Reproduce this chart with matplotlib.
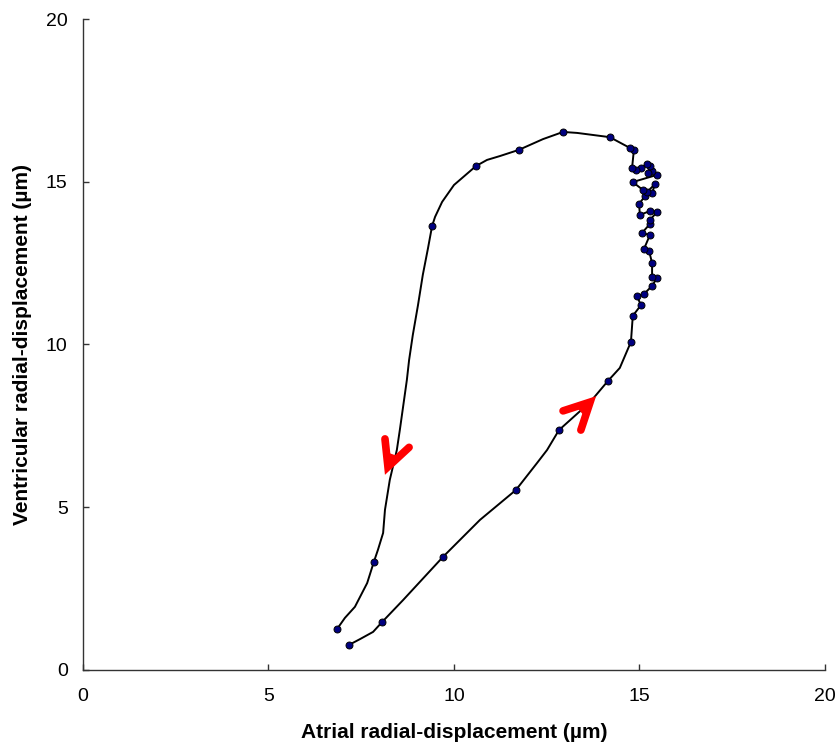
import numpy as np
import matplotlib
matplotlib.use("Agg")
import matplotlib.pyplot as plt

plt.rcParams['font.family'] = ['Liberation Sans', 'DejaVu Sans']

# loop trace (um), in drawing order; marked = sampled point with a dot
atrial = [7.17, 7.47, 7.82, 8.06, 8.63, 9.70, 10.70, 11.67, 12.24, 12.51,
          12.83, 13.67, 14.15, 14.47, 14.77, 14.82, 15.04, 14.93, 15.12, 15.34,
          15.47, 15.34, 15.34, 15.26, 15.12, 15.28, 15.07, 15.28, 15.28, 15.47,
          15.28, 15.01, 14.99, 15.15, 15.34, 15.42, 15.20, 15.09, 14.82, 15.47,
          15.34, 15.23, 15.28, 15.20, 15.04, 14.91, 14.80, 14.85, 14.74, 14.20,
          13.32, 12.94, 12.40, 11.75, 11.24, 10.89, 10.59, 10.00, 9.68, 9.49,
          9.41, 9.30, 9.16, 9.03, 8.89, 8.79, 8.73, 8.54, 8.46, 8.27,
          8.14, 8.09, 7.95, 7.84, 7.66, 7.33, 7.06, 6.85]
ventricular = [0.77, 0.95, 1.17, 1.47, 2.15, 3.47, 4.61, 5.53, 6.36, 6.76,
               7.37, 8.23, 8.88, 9.28, 10.08, 10.88, 11.21, 11.49, 11.55, 11.80,
               12.04, 12.07, 12.50, 12.87, 12.93, 13.36, 13.43, 13.70, 13.82, 14.07,
               14.10, 13.98, 14.32, 14.56, 14.65, 14.93, 14.68, 14.75, 14.99, 15.21,
               15.33, 15.27, 15.48, 15.55, 15.42, 15.36, 15.42, 15.98, 16.04, 16.37,
               16.50, 16.53, 16.31, 15.98, 15.79, 15.67, 15.48, 14.90, 14.38, 13.92,
               13.64, 12.96, 12.14, 11.21, 10.29, 9.52, 8.91, 7.37, 6.76, 5.84,
               4.92, 4.21, 3.69, 3.32, 2.67, 1.94, 1.60, 1.26]
marked = [1, 0, 0, 1, 0, 1, 0, 1, 0, 0,
          1, 0, 1, 0, 1, 1, 1, 1, 1, 1,
          1, 1, 1, 1, 1, 1, 1, 1, 1, 1,
          1, 1, 1, 1, 1, 1, 1, 1, 1, 1,
          1, 1, 1, 1, 1, 1, 1, 1, 1, 1,
          0, 1, 0, 1, 0, 0, 1, 0, 0, 0,
          1, 0, 0, 0, 0, 0, 0, 0, 0, 0,
          0, 0, 0, 1, 0, 0, 0, 1]

# direction arrows (chevrons): arm, tip, arm
arrow_down_x = [8.14, 8.22, 8.79]
arrow_down_y = [7.10, 6.24, 6.84]
arrow_up_x = [12.94, 13.67, 13.42]
arrow_up_y = [7.96, 8.23, 7.37]

fig = plt.figure(figsize=(8.4, 7.51), dpi=100)
ax = fig.add_axes([0.0988, 0.1079, 0.8833, 0.8668])

mk = [i for i, m in enumerate(marked) if m]
ax.plot(atrial, ventricular, color='black', lw=1.4, zorder=2)
ax.plot(np.array(atrial)[mk], np.array(ventricular)[mk], ls='none', marker='o',
        ms=5, mfc='#000080', mec='black', mew=0.7, zorder=3)

for ax_x, ax_y in [(arrow_down_x, arrow_down_y), (arrow_up_x, arrow_up_y)]:
    # filled wedge near the tip only, arms drawn as thick strokes
    tx, ty = ax_x[1], ax_y[1]
    wx = [tx + 0.5 * (ax_x[0] - tx), tx, tx + 0.5 * (ax_x[2] - tx)]
    wy = [ty + 0.5 * (ax_y[0] - ty), ty, ty + 0.5 * (ax_y[2] - ty)]
    ax.fill(wx, wy, color='#ff0000', zorder=4)
    ax.plot(ax_x, ax_y, color='#ff0000', lw=5.5, solid_capstyle='round',
            solid_joinstyle='miter', zorder=4)

ax.set_xlim(0, 20)
ax.set_ylim(0, 20)
ax.set_xticks([0, 5, 10, 15, 20])
ax.set_yticks([0, 5, 10, 15, 20])
for s in ['top', 'right']:
    ax.spines[s].set_visible(False)
for s in ['left', 'bottom']:
    ax.spines[s].set_color('#333333')
    ax.spines[s].set_linewidth(1.0)
ax.tick_params(axis='x', direction='in', length=4, width=1, color='#333333',
               labelsize=14, pad=13)
ax.tick_params(axis='y', direction='in', length=4, width=1, color='#333333',
               labelsize=14, pad=11)

ax.set_xlabel('Atrial radial-displacement (µm)', fontsize=15,
              fontweight='bold', labelpad=13)
ax.set_ylabel('Ventricular radial-displacement (µm)', fontsize=15,
              fontweight='bold', labelpad=10)

fig.savefig('out.png', dpi=100)
